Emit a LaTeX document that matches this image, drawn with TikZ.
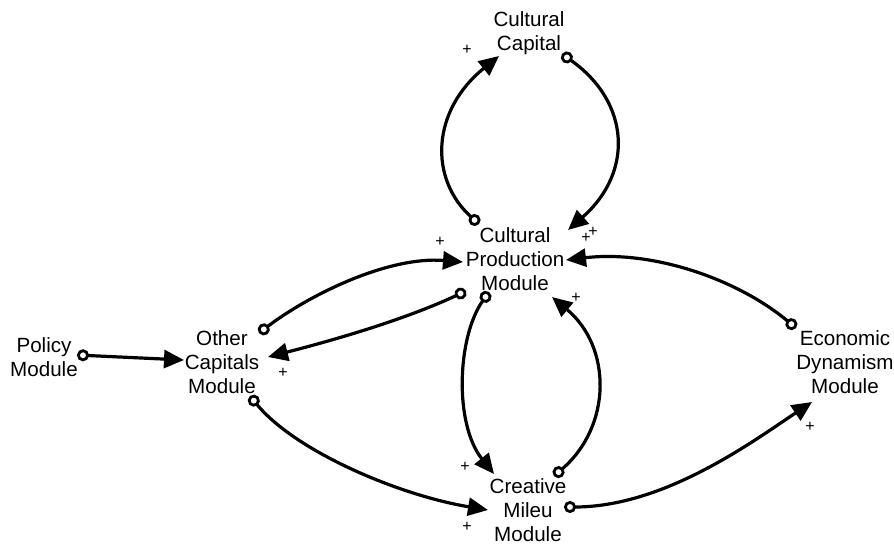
\documentclass[tikz,border=0pt]{standalone}
\usepackage{fontspec}
\setmainfont{Liberation Sans}
\usetikzlibrary{arrows.meta}
\begin{document}
\begin{tikzpicture}[x=1pt,y=-1pt,
  module/.style={align=center,inner sep=0pt,font=\fontsize{20.6}{24}\selectfont},
  sign/.style={inner sep=0pt,font=\fontsize{16}{16}\selectfont},
  link/.style={line width=3.2pt,
    {Circle[open,length=12pt,width=12pt,line width=2.8pt]}-{Triangle[length=20pt,width=18pt]}}]
\useasboundingbox (0,0) rectangle (894,544);
% modules
\node[module] (cc)  at (529,33)  {Cultural\\Capital};
\node[module] (cpm) at (515,259) {Cultural\\Production\\Module};
\node[module] (ocm) at (222,362) {Other\\Capitals\\Module};
\node[module] (pm)  at (44,357)  {Policy\\Module};
\node[module] (edm) at (845,362) {Economic\\Dynamism\\Module};
\node[module] (cmm) at (528,510) {Creative\\Mileu\\Module};
% causal links
\draw[link] ([shift={(-36,-35)}]cpm.center) .. controls +(-50,-45) and +(-68,55) .. ([shift={(-30,23)}]cc.center);
\draw[link] ([shift={(33,21)}]cc.center) .. controls +(68,48) and +(66,-58) .. ([shift={(53,-29)}]cpm.center);
\draw[link] ([shift={(37,-29)}]ocm.center) .. controls +(50,-38) and +(-75,-6) .. ([shift={(-52,3)}]cpm.center);
\draw[link] ([shift={(-49,32)}]cpm.center) .. controls +(-60,28) and +(70,-18) .. ([shift={(46,-5)}]ocm.center);
\draw[link] ([shift={(33,-2)}]pm.center) -- ([shift={(-38,-2)}]ocm.center);
\draw[link] ([shift={(-26,33)}]cpm.center) .. controls +(-32,45) and +(-40,-50) .. ([shift={(-34,-36)}]cmm.center);
\draw[link] ([shift={(26,-34)}]cmm.center) .. controls +(58,-50) and +(60,50) .. ([shift={(37,38)}]cpm.center);
\draw[link] ([shift={(-49,-34)}]edm.center) .. controls +(-60,-50) and +(85,-10) .. ([shift={(51,1)}]cpm.center);
\draw[link] ([shift={(28,34)}]ocm.center) .. controls +(45,55) and +(-90,-15) .. ([shift={(-40,0)}]cmm.center);
\draw[link] ([shift={(36,-3)}]cmm.center) .. controls +(100,0) and +(-60,40) .. ([shift={(-33,40)}]edm.center);
% polarity signs
\node[sign] (s1) at (467,50)  {+};
\node[sign] (s2) at (586,238) {+};
\node[sign] (s3) at (593,232) {+};
\node[sign] (s4) at (440,242) {+};
\node[sign] (s5) at (283,373) {+};
\node[sign] (s6) at (465,467) {+};
\node[sign] (s7) at (576,298) {+};
\node[sign] (s8) at (467,527) {+};
\node[sign] (s9) at (810,427) {+};
\end{tikzpicture}
\end{document}
